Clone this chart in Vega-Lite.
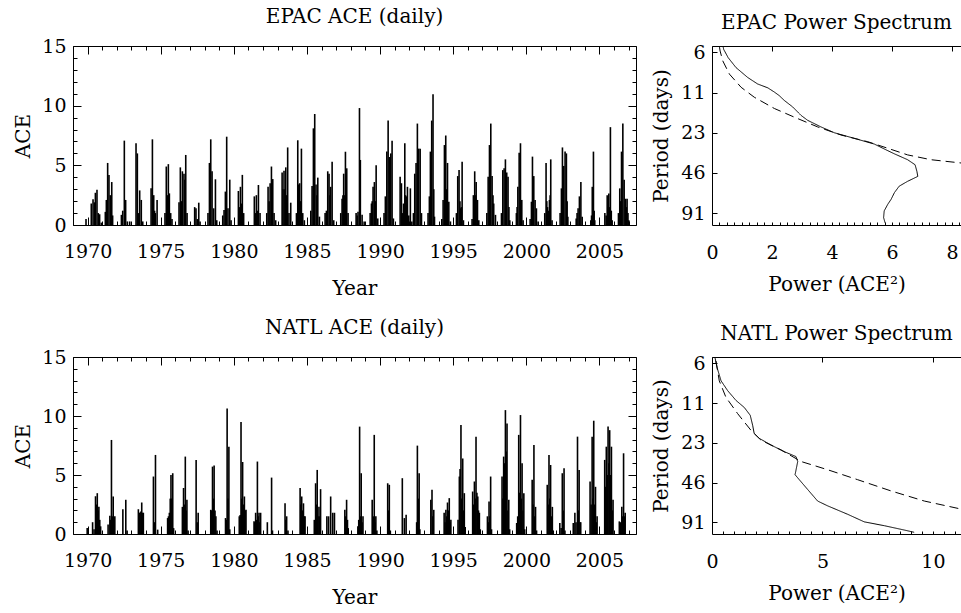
{
"$schema": "https://vega.github.io/schema/vega-lite/v6.json",
"background": "white",
"padding": {"left": 13, "top": 6, "right": 0, "bottom": 0},
"spacing": 18,
"datasets": {
"epac": [
{"t":1969.89,"v":0.5},
{"t":1970.25,"v":1.8},{"t":1970.37,"v":2.15},{"t":1970.46,"v":1.9},{"t":1970.53,"v":2.7},{"t":1970.64,"v":2.95},{"t":1970.73,"v":1.0},{"t":1970.82,"v":0.9},{"t":1970.94,"v":0.2},
{"t":1971.21,"v":1.1},{"t":1971.28,"v":2.1},{"t":1971.37,"v":5.2},{"t":1971.46,"v":4.2},{"t":1971.55,"v":2.5},{"t":1971.65,"v":3.6},{"t":1971.71,"v":0.8},
{"t":1972.31,"v":0.85},{"t":1972.40,"v":1.2},{"t":1972.51,"v":7.07},{"t":1972.60,"v":2.1},{"t":1972.72,"v":0.3},{"t":1972.88,"v":0.3},
{"t":1973.31,"v":6.85},{"t":1973.40,"v":6.0},{"t":1973.49,"v":1.0},{"t":1973.56,"v":2.9},{"t":1973.67,"v":2.1},{"t":1973.77,"v":0.3},
{"t":1974.34,"v":3.07},{"t":1974.43,"v":7.18},{"t":1974.52,"v":2.5},{"t":1974.58,"v":1.2},{"t":1974.63,"v":1.0},{"t":1974.75,"v":2.1},
{"t":1975.29,"v":1.0},{"t":1975.38,"v":4.9},{"t":1975.45,"v":2.5},{"t":1975.52,"v":5.1},{"t":1975.59,"v":2.65},{"t":1975.68,"v":1.0},{"t":1975.77,"v":0.5},
{"t":1976.25,"v":1.9},{"t":1976.34,"v":4.83},{"t":1976.41,"v":2.0},{"t":1976.48,"v":4.5},{"t":1976.59,"v":4.3},{"t":1976.65,"v":3.8},{"t":1976.71,"v":5.87},{"t":1976.80,"v":1.0},
{"t":1977.32,"v":1.5},{"t":1977.41,"v":1.4},{"t":1977.50,"v":0.5},{"t":1977.60,"v":1.87},{"t":1977.69,"v":0.3},
{"t":1978.23,"v":1.0},{"t":1978.33,"v":5.2},{"t":1978.42,"v":7.18},{"t":1978.51,"v":4.5},{"t":1978.62,"v":1.4},{"t":1978.74,"v":3.83},{"t":1978.83,"v":0.4},
{"t":1979.24,"v":0.8},{"t":1979.33,"v":1.25},{"t":1979.42,"v":2.8},{"t":1979.51,"v":7.4},{"t":1979.60,"v":1.4},{"t":1979.72,"v":3.8},{"t":1979.81,"v":0.4},
{"t":1980.31,"v":2.85},{"t":1980.38,"v":1.5},{"t":1980.45,"v":3.2},{"t":1980.51,"v":1.8},{"t":1980.58,"v":4.2},{"t":1980.67,"v":1.0},
{"t":1981.40,"v":2.4},{"t":1981.47,"v":1.0},{"t":1981.54,"v":2.5},{"t":1981.61,"v":1.2},{"t":1981.68,"v":3.35},{"t":1981.79,"v":1.0},
{"t":1982.25,"v":1.0},{"t":1982.34,"v":3.2},{"t":1982.41,"v":2.0},{"t":1982.48,"v":3.5},{"t":1982.57,"v":4.9},{"t":1982.66,"v":3.85},{"t":1982.75,"v":1.0},{"t":1982.86,"v":0.4},
{"t":1983.30,"v":4.4},{"t":1983.36,"v":3.0},{"t":1983.43,"v":4.55},{"t":1983.49,"v":3.0},{"t":1983.55,"v":4.83},{"t":1983.62,"v":2.5},{"t":1983.68,"v":6.5},{"t":1983.77,"v":1.0},{"t":1983.89,"v":1.87},
{"t":1984.28,"v":1.0},{"t":1984.37,"v":7.1},{"t":1984.44,"v":3.4},{"t":1984.50,"v":3.5},{"t":1984.56,"v":2.0},{"t":1984.62,"v":6.4},{"t":1984.71,"v":1.0},{"t":1984.82,"v":0.4},
{"t":1985.26,"v":1.2},{"t":1985.35,"v":3.27},{"t":1985.44,"v":8.1},{"t":1985.53,"v":9.3},{"t":1985.62,"v":3.4},{"t":1985.68,"v":2.5},{"t":1985.74,"v":3.97},{"t":1985.85,"v":0.7},
{"t":1986.24,"v":1.0},{"t":1986.33,"v":1.2},{"t":1986.42,"v":4.5},{"t":1986.51,"v":4.3},{"t":1986.57,"v":2.5},{"t":1986.62,"v":3.2},{"t":1986.72,"v":5.3},{"t":1986.83,"v":0.4},
{"t":1987.31,"v":1.0},{"t":1987.40,"v":2.2},{"t":1987.46,"v":2.5},{"t":1987.51,"v":4.3},{"t":1987.57,"v":2.5},{"t":1987.63,"v":6.14},{"t":1987.72,"v":4.75},{"t":1987.81,"v":1.0},
{"t":1988.36,"v":1.0},{"t":1988.43,"v":0.8},{"t":1988.49,"v":1.1},{"t":1988.59,"v":9.8},{"t":1988.65,"v":5.45},{"t":1988.77,"v":0.85},{"t":1988.91,"v":0.3},
{"t":1989.32,"v":1.0},{"t":1989.41,"v":1.8},{"t":1989.46,"v":2.0},{"t":1989.52,"v":3.2},{"t":1989.61,"v":3.6},{"t":1989.67,"v":2.0},{"t":1989.73,"v":5.0},{"t":1989.84,"v":0.55},
{"t":1990.27,"v":1.0},{"t":1990.36,"v":2.4},{"t":1990.46,"v":6.15},{"t":1990.55,"v":8.75},{"t":1990.64,"v":5.7},{"t":1990.73,"v":6.0},{"t":1990.82,"v":7.07},{"t":1990.91,"v":0.55},
{"t":1991.37,"v":4.05},{"t":1991.46,"v":3.5},{"t":1991.53,"v":1.0},{"t":1991.60,"v":1.8},{"t":1991.69,"v":6.85},{"t":1991.74,"v":2.5},{"t":1991.80,"v":2.4},{"t":1991.87,"v":3.2},{"t":1991.96,"v":0.8},{"t":1992.07,"v":3.07},{"t":1992.17,"v":0.3},
{"t":1992.28,"v":1.0},{"t":1992.37,"v":4.3},{"t":1992.46,"v":5.2},{"t":1992.55,"v":8.5},{"t":1992.64,"v":6.4},{"t":1992.74,"v":6.4},{"t":1992.83,"v":1.0},
{"t":1993.28,"v":1.0},{"t":1993.37,"v":2.4},{"t":1993.44,"v":6.15},{"t":1993.53,"v":8.75},{"t":1993.62,"v":10.95},{"t":1993.67,"v":3.0},{"t":1993.72,"v":0.7},
{"t":1994.22,"v":0.5},{"t":1994.31,"v":2.1},{"t":1994.40,"v":6.7},{"t":1994.49,"v":7.5},{"t":1994.55,"v":3.0},{"t":1994.61,"v":5.2},{"t":1994.70,"v":1.95},{"t":1994.81,"v":0.3},
{"t":1995.22,"v":1.0},{"t":1995.31,"v":4.1},{"t":1995.40,"v":4.6},{"t":1995.46,"v":2.0},{"t":1995.52,"v":1.4},{"t":1995.56,"v":1.5},{"t":1995.61,"v":5.3},{"t":1995.70,"v":0.4},
{"t":1996.29,"v":0.5},{"t":1996.38,"v":2.5},{"t":1996.47,"v":4.5},{"t":1996.52,"v":2.5},{"t":1996.57,"v":3.6},{"t":1996.66,"v":2.1},{"t":1996.75,"v":0.4},
{"t":1997.30,"v":1.0},{"t":1997.39,"v":4.05},{"t":1997.48,"v":6.7},{"t":1997.57,"v":8.5},{"t":1997.66,"v":4.1},{"t":1997.72,"v":2.5},{"t":1997.77,"v":1.8},{"t":1997.89,"v":0.85},
{"t":1998.30,"v":1.0},{"t":1998.39,"v":4.6},{"t":1998.48,"v":4.75},{"t":1998.57,"v":5.5},{"t":1998.66,"v":4.4},{"t":1998.75,"v":4.05},{"t":1998.81,"v":1.5},{"t":1998.87,"v":0.4},
{"t":1999.32,"v":1.0},{"t":1999.37,"v":1.5},{"t":1999.42,"v":3.2},{"t":1999.51,"v":6.06},{"t":1999.60,"v":6.85},{"t":1999.69,"v":2.1},{"t":1999.78,"v":0.4},
{"t":2000.26,"v":0.5},{"t":2000.35,"v":1.95},{"t":2000.42,"v":5.73},{"t":2000.51,"v":4.1},{"t":2000.60,"v":2.1},{"t":2000.69,"v":1.4},{"t":2000.81,"v":0.3},
{"t":2001.26,"v":1.0},{"t":2001.35,"v":5.2},{"t":2001.40,"v":2.0},{"t":2001.45,"v":1.5},{"t":2001.51,"v":1.2},{"t":2001.58,"v":2.1},{"t":2001.63,"v":2.5},{"t":2001.67,"v":5.5},{"t":2001.76,"v":0.4},
{"t":2002.31,"v":1.0},{"t":2002.40,"v":3.07},{"t":2002.47,"v":6.5},{"t":2002.56,"v":4.95},{"t":2002.65,"v":6.15},{"t":2002.74,"v":6.0},{"t":2002.79,"v":2.0},{"t":2002.84,"v":0.7},
{"t":2003.41,"v":0.55},{"t":2003.47,"v":1.0},{"t":2003.54,"v":1.4},{"t":2003.63,"v":2.4},{"t":2003.73,"v":3.6},{"t":2003.82,"v":0.7},
{"t":2004.41,"v":0.4},{"t":2004.46,"v":0.8},{"t":2004.51,"v":3.2},{"t":2004.55,"v":1.0},{"t":2004.59,"v":6.15},{"t":2004.64,"v":1.2},{"t":2004.68,"v":0.4},
{"t":2005.37,"v":1.0},{"t":2005.46,"v":0.8},{"t":2005.53,"v":2.5},{"t":2005.58,"v":1.5},{"t":2005.64,"v":2.65},{"t":2005.70,"v":1.5},{"t":2005.75,"v":8.2},{"t":2005.81,"v":1.2},{"t":2005.87,"v":0.4},
{"t":2006.30,"v":1.0},{"t":2006.39,"v":3.07},{"t":2006.45,"v":2.0},{"t":2006.51,"v":6.15},{"t":2006.60,"v":8.5},{"t":2006.69,"v":3.8},{"t":2006.78,"v":2.2},{"t":2006.84,"v":1.5},{"t":2006.89,"v":2.2},{"t":2006.95,"v":1.0},{"t":2007.01,"v":0.4}
],
"natl": [
{"t":1969.97,"v":0.5},
{"t":1970.34,"v":1.0},{"t":1970.44,"v":0.4},{"t":1970.54,"v":3.2},{"t":1970.60,"v":2.5},{"t":1970.66,"v":3.46},{"t":1970.72,"v":2.0},{"t":1970.77,"v":2.3},{"t":1970.83,"v":1.2},{"t":1970.89,"v":0.65},
{"t":1971.40,"v":0.8},{"t":1971.52,"v":1.55},{"t":1971.58,"v":1.2},{"t":1971.63,"v":7.97},{"t":1971.69,"v":1.5},{"t":1971.75,"v":3.18},{"t":1971.80,"v":1.4},{"t":1971.86,"v":1.5},
{"t":1972.41,"v":2.1},{"t":1972.61,"v":2.9},{"t":1972.70,"v":0.3},
{"t":1973.47,"v":2.1},{"t":1973.53,"v":1.8},{"t":1973.58,"v":1.8},{"t":1973.64,"v":1.9},{"t":1973.70,"v":2.67},{"t":1973.76,"v":1.8},{"t":1973.81,"v":1.8},
{"t":1974.50,"v":4.87},{"t":1974.57,"v":1.0},{"t":1974.64,"v":6.7},{"t":1974.79,"v":0.37},
{"t":1975.47,"v":1.35},{"t":1975.53,"v":1.5},{"t":1975.59,"v":1.8},{"t":1975.65,"v":3.0},{"t":1975.70,"v":5.0},{"t":1975.76,"v":3.0},{"t":1975.82,"v":5.15},{"t":1975.88,"v":0.5},
{"t":1976.48,"v":2.3},{"t":1976.56,"v":3.9},{"t":1976.62,"v":2.5},{"t":1976.68,"v":6.56},{"t":1976.74,"v":2.0},{"t":1976.79,"v":2.9},{"t":1976.87,"v":0.3},
{"t":1977.42,"v":6.28},{"t":1977.49,"v":1.0},{"t":1977.56,"v":1.8},
{"t":1978.42,"v":2.05},{"t":1978.48,"v":2.0},{"t":1978.54,"v":5.71},{"t":1978.60,"v":3.0},{"t":1978.65,"v":5.8},{"t":1978.71,"v":2.0},{"t":1978.77,"v":1.5},{"t":1978.85,"v":0.3},
{"t":1979.43,"v":1.35},{"t":1979.49,"v":1.2},{"t":1979.54,"v":10.64},{"t":1979.60,"v":3.0},{"t":1979.66,"v":7.4},{"t":1979.72,"v":0.4},
{"t":1980.37,"v":1.5},{"t":1980.43,"v":1.6},{"t":1980.49,"v":9.5},{"t":1980.54,"v":3.0},{"t":1980.60,"v":6.1},{"t":1980.66,"v":2.5},{"t":1980.72,"v":3.18},{"t":1980.77,"v":2.0},{"t":1980.83,"v":2.05},
{"t":1981.38,"v":1.07},{"t":1981.43,"v":1.0},{"t":1981.49,"v":1.8},{"t":1981.55,"v":1.2},{"t":1981.61,"v":6.14},{"t":1981.66,"v":1.5},{"t":1981.72,"v":1.8},{"t":1981.78,"v":1.0},{"t":1981.83,"v":1.8},
{"t":1982.29,"v":1.0},{"t":1982.58,"v":4.78},{"t":1982.64,"v":0.3},
{"t":1983.50,"v":2.6},{"t":1983.55,"v":1.2},{"t":1983.61,"v":1.5},{"t":1983.70,"v":0.3},
{"t":1984.53,"v":3.9},{"t":1984.58,"v":2.5},{"t":1984.64,"v":3.18},{"t":1984.70,"v":2.0},{"t":1984.76,"v":2.6},{"t":1984.81,"v":1.5},{"t":1984.87,"v":1.5},
{"t":1985.50,"v":1.2},{"t":1985.59,"v":4.3},{"t":1985.65,"v":2.5},{"t":1985.70,"v":5.43},{"t":1985.76,"v":1.5},{"t":1985.82,"v":2.3},{"t":1985.87,"v":1.5},{"t":1985.93,"v":3.8},
{"t":1986.36,"v":1.5},{"t":1986.48,"v":1.5},{"t":1986.62,"v":3.18},{"t":1986.76,"v":1.8},{"t":1986.88,"v":1.8},
{"t":1987.59,"v":2.05},{"t":1987.65,"v":1.5},{"t":1987.71,"v":2.9},{"t":1987.77,"v":1.2},{"t":1987.82,"v":0.5},
{"t":1988.48,"v":0.65},{"t":1988.54,"v":1.2},{"t":1988.60,"v":9.1},{"t":1988.65,"v":1.5},{"t":1988.71,"v":5.15},{"t":1988.77,"v":1.0},{"t":1988.83,"v":1.5},
{"t":1989.46,"v":2.9},{"t":1989.53,"v":1.5},{"t":1989.60,"v":8.4},{"t":1989.65,"v":1.0},{"t":1989.71,"v":1.5},{"t":1989.78,"v":0.3},
{"t":1990.52,"v":4.3},{"t":1990.57,"v":2.0},{"t":1990.63,"v":4.17},{"t":1990.70,"v":0.3},
{"t":1991.52,"v":4.73},{"t":1991.66,"v":1.35},{"t":1991.78,"v":1.63},
{"t":1992.50,"v":1.0},{"t":1992.55,"v":7.49},{"t":1992.61,"v":3.0},{"t":1992.67,"v":5.15},{"t":1992.72,"v":0.4},
{"t":1993.47,"v":2.9},{"t":1993.55,"v":3.74},{"t":1993.61,"v":1.5},{"t":1993.67,"v":2.05},
{"t":1994.38,"v":1.8},{"t":1994.44,"v":1.0},{"t":1994.50,"v":2.05},{"t":1994.56,"v":1.5},{"t":1994.61,"v":2.67},{"t":1994.67,"v":2.0},{"t":1994.73,"v":3.04},{"t":1994.79,"v":1.0},{"t":1994.84,"v":1.2},
{"t":1995.33,"v":1.2},{"t":1995.42,"v":4.87},{"t":1995.47,"v":5.5},{"t":1995.53,"v":9.23},{"t":1995.59,"v":3.0},{"t":1995.65,"v":6.4},{"t":1995.70,"v":2.0},{"t":1995.76,"v":3.46},{"t":1995.82,"v":0.6},
{"t":1996.33,"v":3.6},{"t":1996.39,"v":2.5},{"t":1996.45,"v":4.45},{"t":1996.50,"v":3.0},{"t":1996.56,"v":8.25},{"t":1996.62,"v":3.5},{"t":1996.68,"v":3.18},{"t":1996.73,"v":2.0},{"t":1996.79,"v":1.8},{"t":1996.85,"v":0.4},
{"t":1997.34,"v":1.5},{"t":1997.40,"v":1.0},{"t":1997.45,"v":2.76},{"t":1997.51,"v":1.5},{"t":1997.56,"v":4.87},{"t":1997.62,"v":0.4},
{"t":1998.34,"v":4.87},{"t":1998.40,"v":3.0},{"t":1998.45,"v":6.56},{"t":1998.51,"v":6.0},{"t":1998.57,"v":10.5},{"t":1998.62,"v":7.0},{"t":1998.68,"v":9.37},{"t":1998.74,"v":2.0},{"t":1998.80,"v":2.9},{"t":1998.86,"v":0.4},
{"t":1999.34,"v":0.93},{"t":1999.41,"v":1.5},{"t":1999.48,"v":8.4},{"t":1999.54,"v":3.5},{"t":1999.60,"v":10.08},{"t":1999.66,"v":3.0},{"t":1999.71,"v":6.0},{"t":1999.77,"v":2.0},{"t":1999.83,"v":3.46},{"t":1999.89,"v":0.4},
{"t":2000.40,"v":4.6},{"t":2000.46,"v":2.5},{"t":2000.52,"v":7.54},{"t":2000.57,"v":1.5},{"t":2000.63,"v":2.3},{"t":2000.70,"v":0.3},
{"t":2001.43,"v":4.17},{"t":2001.49,"v":2.5},{"t":2001.55,"v":6.7},{"t":2001.61,"v":3.0},{"t":2001.66,"v":5.85},{"t":2001.72,"v":1.5},{"t":2001.78,"v":2.3},{"t":2001.84,"v":0.3},
{"t":2002.29,"v":0.93},{"t":2002.38,"v":0.5},{"t":2002.46,"v":5.15},{"t":2002.52,"v":2.0},{"t":2002.58,"v":5.57},{"t":2002.64,"v":0.3},
{"t":2003.21,"v":0.93},{"t":2003.32,"v":1.8},{"t":2003.40,"v":1.0},{"t":2003.50,"v":8.25},{"t":2003.55,"v":2.0},{"t":2003.61,"v":5.43},{"t":2003.67,"v":1.0},{"t":2003.72,"v":1.0},
{"t":2004.36,"v":4.45},{"t":2004.43,"v":2.5},{"t":2004.50,"v":8.25},{"t":2004.56,"v":3.0},{"t":2004.61,"v":9.6},{"t":2004.67,"v":2.5},{"t":2004.73,"v":4.0},{"t":2004.78,"v":1.0},{"t":2004.84,"v":1.5},
{"t":2005.36,"v":6.28},{"t":2005.42,"v":4.0},{"t":2005.47,"v":7.4},{"t":2005.53,"v":5.0},{"t":2005.59,"v":9.1},{"t":2005.65,"v":6.0},{"t":2005.70,"v":8.8},{"t":2005.76,"v":5.0},{"t":2005.82,"v":7.4},{"t":2005.88,"v":2.0},{"t":2005.93,"v":2.9},
{"t":2006.36,"v":1.07},{"t":2006.45,"v":1.0},{"t":2006.53,"v":2.3},{"t":2006.59,"v":1.5},{"t":2006.65,"v":6.84},{"t":2006.70,"v":1.5},{"t":2006.76,"v":1.8}
],
"epacSpec": [
{"p":5.15,"w":0.37,"s":"solid"},{"p":5.41,"w":0.39,"s":"solid"},{"p":6.24,"w":0.54,"s":"solid"},{"p":7.4,"w":0.8,"s":"solid"},{"p":8.78,"w":1.19,"s":"solid"},{"p":9.82,"w":1.52,"s":"solid"},{"p":10.5,"w":1.86,"s":"solid"},{"p":11.3,"w":2.08,"s":"solid"},{"p":12.0,"w":2.24,"s":"solid"},{"p":13.05,"w":2.41,"s":"solid"},{"p":14.6,"w":2.69,"s":"solid"},{"p":16.9,"w":2.97,"s":"solid"},{"p":18.4,"w":3.19,"s":"solid"},{"p":20.6,"w":3.63,"s":"solid"},{"p":22.8,"w":4.08,"s":"solid"},{"p":25.1,"w":4.74,"s":"solid"},{"p":27.7,"w":5.41,"s":"solid"},{"p":30.6,"w":5.8,"s":"solid"},{"p":32.8,"w":6.08,"s":"solid"},{"p":36.3,"w":6.52,"s":"solid"},{"p":39.6,"w":6.77,"s":"solid"},{"p":44.4,"w":6.83,"s":"solid"},{"p":48.4,"w":6.86,"s":"solid"},{"p":52.7,"w":6.52,"s":"solid"},{"p":57.3,"w":6.24,"s":"solid"},{"p":64.1,"w":6.08,"s":"solid"},{"p":71.9,"w":5.97,"s":"solid"},{"p":78.3,"w":5.86,"s":"solid"},{"p":87.8,"w":5.74,"s":"solid"},{"p":98.5,"w":5.72,"s":"solid"},{"p":108,"w":5.77,"s":"solid"},
{"p":5.2,"w":0.25,"s":"dashed"},{"p":5.56,"w":0.27,"s":"dashed"},{"p":6.6,"w":0.36,"s":"dashed"},{"p":8.28,"w":0.58,"s":"dashed"},{"p":10.4,"w":0.97,"s":"dashed"},{"p":12.35,"w":1.41,"s":"dashed"},{"p":15.0,"w":2.08,"s":"dashed"},{"p":17.4,"w":2.74,"s":"dashed"},{"p":20.6,"w":3.52,"s":"dashed"},{"p":23.7,"w":4.3,"s":"dashed"},{"p":26.6,"w":5.19,"s":"dashed"},{"p":29.8,"w":5.86,"s":"dashed"},{"p":33.4,"w":6.52,"s":"dashed"},{"p":36.3,"w":7.3,"s":"dashed"},{"p":38.4,"w":8.3,"s":"dashed"},{"p":39.0,"w":8.6,"s":"dashed"}
],
"natlSpec": [
{"p":5.2,"w":0.14,"s":"solid"},{"p":6.14,"w":0.23,"s":"solid"},{"p":7.73,"w":0.41,"s":"solid"},{"p":9.18,"w":0.71,"s":"solid"},{"p":10.9,"w":1.09,"s":"solid"},{"p":12.3,"w":1.46,"s":"solid"},{"p":14.1,"w":1.73,"s":"solid"},{"p":16.8,"w":1.84,"s":"solid"},{"p":19.4,"w":1.91,"s":"solid"},{"p":21.1,"w":2.14,"s":"solid"},{"p":23.7,"w":2.67,"s":"solid"},{"p":26.6,"w":3.27,"s":"solid"},{"p":29.0,"w":3.8,"s":"solid"},{"p":31.6,"w":3.88,"s":"solid"},{"p":39.8,"w":3.76,"s":"solid"},{"p":43.4,"w":3.95,"s":"solid"},{"p":51.5,"w":4.33,"s":"solid"},{"p":63.0,"w":4.78,"s":"solid"},{"p":68.6,"w":5.24,"s":"solid"},{"p":79.4,"w":6.14,"s":"solid"},{"p":90.6,"w":6.89,"s":"solid"},{"p":96.9,"w":7.8,"s":"solid"},{"p":104.5,"w":8.7,"s":"solid"},{"p":108.7,"w":9.15,"s":"solid"},
{"p":5.47,"w":0.18,"s":"dashed"},{"p":7.73,"w":0.33,"s":"dashed"},{"p":10.3,"w":0.63,"s":"dashed"},{"p":13.7,"w":1.16,"s":"dashed"},{"p":18.3,"w":1.76,"s":"dashed"},{"p":21.8,"w":2.22,"s":"dashed"},{"p":25.8,"w":3.12,"s":"dashed"},{"p":31.6,"w":4.03,"s":"dashed"},{"p":36.5,"w":5.24,"s":"dashed"},{"p":43.4,"w":6.59,"s":"dashed"},{"p":52.8,"w":8.1,"s":"dashed"},{"p":63.0,"w":9.61,"s":"dashed"},{"p":72.9,"w":11.34,"s":"dashed"}
],
"anchor": [{"t":1969,"v":0,"p":5.1,"w":0}]
},
"vconcat": [
{"hconcat": [
{"width": 563, "height": 179,
 "title": {"text": "EPAC ACE (daily)", "frame": "group", "offset": 10},
 "layer": [
  {"data": {"name": "epac"}, "mark": {"type": "rule", "strokeWidth": 1.6, "color": "black"},
   "encoding": {
    "x": {"field": "t", "type": "quantitative", "scale": {"domain": [1969, 2007.5], "nice": false, "zero": false}, "axis": {"orient": "bottom", "values": [1970,1975,1980,1985,1990,1995,2000,2005], "format": "d", "ticks": false, "domain": false, "title": "Year", "labelPadding": 17, "titlePadding": 17}},
    "y": {"field": "v", "type": "quantitative", "scale": {"domain": [0, 15], "nice": false}, "axis": {"orient": "left", "values": [0,5,10,15], "ticks": false, "domain": false, "title": "ACE", "labelPadding": 7, "titlePadding": 8}},
    "y2": {"datum": 0}}},
  {"data": {"name": "anchor"}, "mark": {"type": "point", "opacity": 0},
   "encoding": {
    "x": {"field": "t", "type": "quantitative", "scale": {"domain": [1969, 2007.5], "nice": false, "zero": false}, "axis": {"orient": "bottom", "values": [1970,1975,1980,1985,1990,1995,2000,2005], "labels": false, "title": null, "domain": false, "tickSize": -8}},
    "y": {"field": "v", "type": "quantitative", "scale": {"domain": [0, 15], "nice": false}, "axis": {"orient": "left", "values": [0,5,10,15], "labels": false, "title": null, "domain": false, "tickSize": -8}}}},
  {"data": {"name": "anchor"}, "mark": {"type": "point", "opacity": 0},
   "encoding": {
    "x": {"field": "t", "type": "quantitative", "scale": {"domain": [1969, 2007.5], "nice": false, "zero": false}, "axis": {"orient": "top", "values": [1970,1975,1980,1985,1990,1995,2000,2005], "labels": false, "title": null, "domain": false, "tickSize": -8}},
    "y": {"field": "v", "type": "quantitative", "scale": {"domain": [0, 15], "nice": false}, "axis": {"orient": "right", "values": [0,5,10,15], "labels": false, "title": null, "domain": false, "tickSize": -8}}}},
  {"data": {"name": "anchor"}, "mark": {"type": "point", "opacity": 0},
   "encoding": {
    "x": {"field": "t", "type": "quantitative", "scale": {"domain": [1969, 2007.5], "nice": false, "zero": false}, "axis": {"orient": "bottom", "values": [1969,1970,1971,1972,1973,1974,1975,1976,1977,1978,1979,1980,1981,1982,1983,1984,1985,1986,1987,1988,1989,1990,1991,1992,1993,1994,1995,1996,1997,1998,1999,2000,2001,2002,2003,2004,2005,2006,2007], "labels": false, "title": null, "domain": false, "tickSize": -4}},
    "y": {"field": "v", "type": "quantitative", "scale": {"domain": [0, 15], "nice": false}, "axis": {"orient": "left", "values": [1,2,3,4,6,7,8,9,11,12,13,14], "labels": false, "title": null, "domain": false, "tickSize": -4}}}},
  {"data": {"name": "anchor"}, "mark": {"type": "point", "opacity": 0},
   "encoding": {
    "x": {"field": "t", "type": "quantitative", "scale": {"domain": [1969, 2007.5], "nice": false, "zero": false}, "axis": {"orient": "top", "values": [1969,1970,1971,1972,1973,1974,1975,1976,1977,1978,1979,1980,1981,1982,1983,1984,1985,1986,1987,1988,1989,1990,1991,1992,1993,1994,1995,1996,1997,1998,1999,2000,2001,2002,2003,2004,2005,2006,2007], "labels": false, "title": null, "domain": false, "tickSize": -4}},
    "y": {"field": "v", "type": "quantitative", "scale": {"domain": [0, 15], "nice": false}, "axis": {"orient": "right", "values": [1,2,3,4,6,7,8,9,11,12,13,14], "labels": false, "title": null, "domain": false, "tickSize": -4}}}}
 ],
 "resolve": {"axis": {"x": "independent", "y": "independent"}}
},
{"width": 249, "height": 179,
 "view": {"stroke": null},
 "title": {"text": "EPAC Power Spectrum", "frame": "group", "offset": 10},
 "layer": [
  {"data": {"name": "epacSpec"}, "mark": {"type": "line", "color": "black", "strokeWidth": 1, "clip": true},
   "encoding": {
    "x": {"field": "w", "type": "quantitative", "scale": {"domain": [0, 8.3], "nice": false, "zero": false}, "axis": {"orient": "bottom", "values": [0,2,4,6,8], "ticks": false, "domain": true, "title": "Power (ACE²)", "labelPadding": 18, "titlePadding": 12}},
    "y": {"field": "p", "type": "quantitative", "scale": {"type": "log", "domain": [5.1, 112], "nice": false, "reverse": true}, "axis": {"orient": "left", "values": [5.703125, 11.40625, 22.8125, 45.625, 91.25], "format": ".0f", "ticks": false, "domain": true, "title": "Period (days)", "labelPadding": 7, "titlePadding": 9}},
    "strokeDash": {"field": "s", "type": "nominal", "scale": {"domain": ["solid", "dashed"], "range": [[1, 0], [9, 5]]}, "legend": null},
    "order": {"field": "p", "type": "quantitative"}}},
  {"data": {"name": "anchor"}, "mark": {"type": "point", "opacity": 0},
   "encoding": {
    "x": {"field": "w", "type": "quantitative", "scale": {"domain": [0, 8.3], "nice": false, "zero": false}, "axis": {"orient": "top", "values": [0,2,4,6,8], "labels": false, "title": null, "domain": true, "tickSize": -5}},
    "y": {"field": "p", "type": "quantitative", "scale": {"type": "log", "domain": [5.1, 112], "nice": false, "reverse": true}, "axis": {"orient": "left", "values": [5.703125, 11.40625, 22.8125, 45.625, 91.25], "labels": false, "title": null, "domain": false, "tickSize": -5}}}},
  {"data": {"name": "anchor"}, "mark": {"type": "point", "opacity": 0},
   "encoding": {
    "x": {"field": "w", "type": "quantitative", "scale": {"domain": [0, 8.3], "nice": false, "zero": false}, "axis": {"orient": "bottom", "values": [0.25,0.5,0.75,1,1.25,1.5,1.75,2,2.25,2.5,2.75,3,3.25,3.5,3.75,4,4.25,4.5,4.75,5,5.25,5.5,5.75,6,6.25,6.5,6.75,7,7.25,7.5,7.75,8,8.25], "labels": false, "title": null, "domain": false, "tickSize": -3}},
    "y": {"field": "p", "type": "quantitative", "scale": {"type": "log", "domain": [5.1, 112], "nice": false, "reverse": true}, "axis": null}}}
 ],
 "resolve": {"axis": {"x": "independent", "y": "independent"}}
}
], "spacing": 14},
{"hconcat": [
{"width": 563, "height": 177,
 "title": {"text": "NATL ACE (daily)", "frame": "group", "offset": 10},
 "layer": [
  {"data": {"name": "natl"}, "mark": {"type": "rule", "strokeWidth": 1.6, "color": "black"},
   "encoding": {
    "x": {"field": "t", "type": "quantitative", "scale": {"domain": [1969, 2007.5], "nice": false, "zero": false}, "axis": {"orient": "bottom", "values": [1970,1975,1980,1985,1990,1995,2000,2005], "format": "d", "ticks": false, "domain": false, "title": "Year", "labelPadding": 17, "titlePadding": 17}},
    "y": {"field": "v", "type": "quantitative", "scale": {"domain": [0, 15], "nice": false}, "axis": {"orient": "left", "values": [0,5,10,15], "ticks": false, "domain": false, "title": "ACE", "labelPadding": 7, "titlePadding": 8}},
    "y2": {"datum": 0}}},
  {"data": {"name": "anchor"}, "mark": {"type": "point", "opacity": 0},
   "encoding": {
    "x": {"field": "t", "type": "quantitative", "scale": {"domain": [1969, 2007.5], "nice": false, "zero": false}, "axis": {"orient": "bottom", "values": [1970,1975,1980,1985,1990,1995,2000,2005], "labels": false, "title": null, "domain": false, "tickSize": -8}},
    "y": {"field": "v", "type": "quantitative", "scale": {"domain": [0, 15], "nice": false}, "axis": {"orient": "left", "values": [0,5,10,15], "labels": false, "title": null, "domain": false, "tickSize": -8}}}},
  {"data": {"name": "anchor"}, "mark": {"type": "point", "opacity": 0},
   "encoding": {
    "x": {"field": "t", "type": "quantitative", "scale": {"domain": [1969, 2007.5], "nice": false, "zero": false}, "axis": {"orient": "top", "values": [1970,1975,1980,1985,1990,1995,2000,2005], "labels": false, "title": null, "domain": false, "tickSize": -8}},
    "y": {"field": "v", "type": "quantitative", "scale": {"domain": [0, 15], "nice": false}, "axis": {"orient": "right", "values": [0,5,10,15], "labels": false, "title": null, "domain": false, "tickSize": -8}}}},
  {"data": {"name": "anchor"}, "mark": {"type": "point", "opacity": 0},
   "encoding": {
    "x": {"field": "t", "type": "quantitative", "scale": {"domain": [1969, 2007.5], "nice": false, "zero": false}, "axis": {"orient": "bottom", "values": [1969,1970,1971,1972,1973,1974,1975,1976,1977,1978,1979,1980,1981,1982,1983,1984,1985,1986,1987,1988,1989,1990,1991,1992,1993,1994,1995,1996,1997,1998,1999,2000,2001,2002,2003,2004,2005,2006,2007], "labels": false, "title": null, "domain": false, "tickSize": -4}},
    "y": {"field": "v", "type": "quantitative", "scale": {"domain": [0, 15], "nice": false}, "axis": {"orient": "left", "values": [1,2,3,4,6,7,8,9,11,12,13,14], "labels": false, "title": null, "domain": false, "tickSize": -4}}}},
  {"data": {"name": "anchor"}, "mark": {"type": "point", "opacity": 0},
   "encoding": {
    "x": {"field": "t", "type": "quantitative", "scale": {"domain": [1969, 2007.5], "nice": false, "zero": false}, "axis": {"orient": "top", "values": [1969,1970,1971,1972,1973,1974,1975,1976,1977,1978,1979,1980,1981,1982,1983,1984,1985,1986,1987,1988,1989,1990,1991,1992,1993,1994,1995,1996,1997,1998,1999,2000,2001,2002,2003,2004,2005,2006,2007], "labels": false, "title": null, "domain": false, "tickSize": -4}},
    "y": {"field": "v", "type": "quantitative", "scale": {"domain": [0, 15], "nice": false}, "axis": {"orient": "right", "values": [1,2,3,4,6,7,8,9,11,12,13,14], "labels": false, "title": null, "domain": false, "tickSize": -4}}}}
 ],
 "resolve": {"axis": {"x": "independent", "y": "independent"}}
},
{"width": 249, "height": 177,
 "view": {"stroke": null},
 "title": {"text": "NATL Power Spectrum", "frame": "group", "offset": 10},
 "layer": [
  {"data": {"name": "natlSpec"}, "mark": {"type": "line", "color": "black", "strokeWidth": 1, "clip": true},
   "encoding": {
    "x": {"field": "w", "type": "quantitative", "scale": {"domain": [0, 11.27], "nice": false, "zero": false}, "axis": {"orient": "bottom", "values": [0,5,10], "ticks": false, "domain": true, "title": "Power (ACE²)", "labelPadding": 18, "titlePadding": 12}},
    "y": {"field": "p", "type": "quantitative", "scale": {"type": "log", "domain": [5.1, 112], "nice": false, "reverse": true}, "axis": {"orient": "left", "values": [5.703125, 11.40625, 22.8125, 45.625, 91.25], "format": ".0f", "ticks": false, "domain": true, "title": "Period (days)", "labelPadding": 7, "titlePadding": 9}},
    "strokeDash": {"field": "s", "type": "nominal", "scale": {"domain": ["solid", "dashed"], "range": [[1, 0], [9, 5]]}, "legend": null},
    "order": {"field": "p", "type": "quantitative"}}},
  {"data": {"name": "anchor"}, "mark": {"type": "point", "opacity": 0},
   "encoding": {
    "x": {"field": "w", "type": "quantitative", "scale": {"domain": [0, 11.27], "nice": false, "zero": false}, "axis": {"orient": "top", "values": [0,5,10], "labels": false, "title": null, "domain": true, "tickSize": -5}},
    "y": {"field": "p", "type": "quantitative", "scale": {"type": "log", "domain": [5.1, 112], "nice": false, "reverse": true}, "axis": {"orient": "left", "values": [5.703125, 11.40625, 22.8125, 45.625, 91.25], "labels": false, "title": null, "domain": false, "tickSize": -5}}}},
  {"data": {"name": "anchor"}, "mark": {"type": "point", "opacity": 0},
   "encoding": {
    "x": {"field": "w", "type": "quantitative", "scale": {"domain": [0, 11.27], "nice": false, "zero": false}, "axis": {"orient": "bottom", "values": [0.5,1,1.5,2,2.5,3,3.5,4,4.5,5,5.5,6,6.5,7,7.5,8,8.5,9,9.5,10,10.5,11], "labels": false, "title": null, "domain": false, "tickSize": -3}},
    "y": {"field": "p", "type": "quantitative", "scale": {"type": "log", "domain": [5.1, 112], "nice": false, "reverse": true}, "axis": null}}}
 ],
 "resolve": {"axis": {"x": "independent", "y": "independent"}}
}
], "spacing": 14}
],
"config": {
 "view": {"stroke": "black", "strokeWidth": 1},
 "axis": {"labelFont": "DejaVu Serif", "titleFont": "DejaVu Serif", "labelFontSize": 19, "titleFontSize": 20, "titleFontWeight": "normal", "labelColor": "black", "titleColor": "black", "tickColor": "black", "domainColor": "black", "domainWidth": 1, "tickWidth": 1, "grid": false, "labelFlush": false, "labelOverlap": false, "minExtent": 0},
 "title": {"font": "DejaVu Serif", "fontSize": 20, "fontWeight": "normal", "color": "black"}
}
}
